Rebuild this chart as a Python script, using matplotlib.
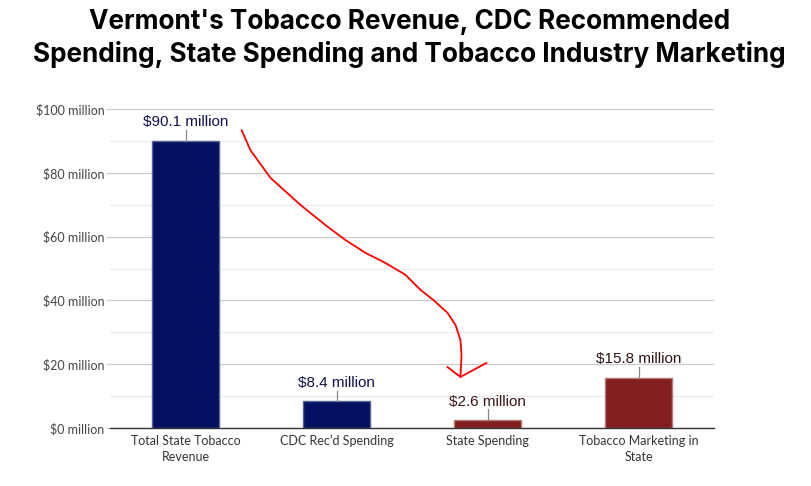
import numpy as np
import matplotlib.pyplot as plt
from matplotlib.ticker import MultipleLocator

categories = ['Total State Tobacco\nRevenue', "CDC Rec\u2019d Spending", 'State Spending',
              'Tobacco Marketing in\nState']
values = [90.1, 8.4, 2.6, 15.8]
value_labels = ['$90.1 million', '$8.4 million', '$2.6 million', '$15.8 million']
y_ticks = [0, 20, 40, 60, 80, 100]
y_tick_labels = ['$%d million' % v for v in y_ticks]

# hand drawn red arrow, in data units (category index, millions)
arrow_x = [0.371, 0.430, 0.563, 0.762, 0.927, 1.060, 1.192, 1.325, 1.457, 1.556,
           1.642, 1.735, 1.788, 1.821, 1.828, 1.821]
arrow_y = [93.4, 87.1, 78.4, 69.9, 63.6, 58.9, 54.9, 51.7, 48.0, 43.3,
           40.1, 36.1, 32.3, 27.6, 22.9, 16.0]
head_x = [1.735, 1.821, 1.993]
head_y = [19.1, 16.0, 20.4]

navy = '#041161'
darkred = '#821e20'
bar_colors = [navy, navy, darkred, darkred]
edge_colors = ['#5a6290', '#5a6290', '#b07878', '#b07878']
text_colors = ['#101050', '#101050', '#401515', '#301515']

fig = plt.figure(figsize=(8.11, 4.86), dpi=100)
ax = fig.add_axes([110 / 811, 1 - 428 / 486, 604 / 811, (428 - 109) / 486])

x = np.arange(len(values))
ax.bar(x, values, width=0.45, color=bar_colors, edgecolor=edge_colors, linewidth=1, zorder=3)

for i, v in enumerate(values):
    ax.plot([i, i], [v, v + 3.3], color='#888888', lw=0.9, zorder=3)
    ax.text(i, v + 3.5, value_labels[i], ha='center', va='bottom', fontsize=11,
            family='Liberation Sans', color=text_colors[i], zorder=4)

ax.plot(arrow_x, arrow_y, color='#ff0000', lw=1.3, zorder=5, solid_capstyle='round')
ax.plot(head_x, head_y, color='#ff0000', lw=1.3, zorder=5, solid_joinstyle='round')

ax.set_xlim(-0.5, 3.5)
ax.set_ylim(0, 100)
ax.set_yticks(y_ticks)
ax.set_yticklabels(y_tick_labels, family='Lato', fontsize=9, color='#444444')
ax.yaxis.set_minor_locator(MultipleLocator(10))
ax.grid(axis='y', which='major', color='#cccccc', lw=0.9, zorder=0)
ax.grid(axis='y', which='minor', color='#ebebeb', lw=0.9, zorder=0)
ax.set_xticks(x)
ax.set_xticklabels(categories, family='Lato', fontsize=9, color='#333333', linespacing=1.45)
ax.tick_params(axis='x', length=0, pad=5)
ax.tick_params(axis='y', which='minor', length=0)
ax.tick_params(axis='y', which='major', length=3, color='#cccccc', width=0.9, pad=1)
for s in ['left', 'right', 'top']:
    ax.spines[s].set_visible(False)
ax.spines['bottom'].set_color('#333333')
ax.spines['bottom'].set_linewidth(1)
ax.spines['bottom'].set_zorder(4)
ax.set_axisbelow(True)

fig.text(0.505, 0.982, "Vermont's Tobacco Revenue, CDC Recommended\n"
         "Spending, State Spending and Tobacco Industry Marketing",
         ha='center', va='top', fontsize=18.8, fontweight='bold', family='Inter',
         color='#000000', linespacing=1.3)

fig.savefig('out.png', dpi=100)
